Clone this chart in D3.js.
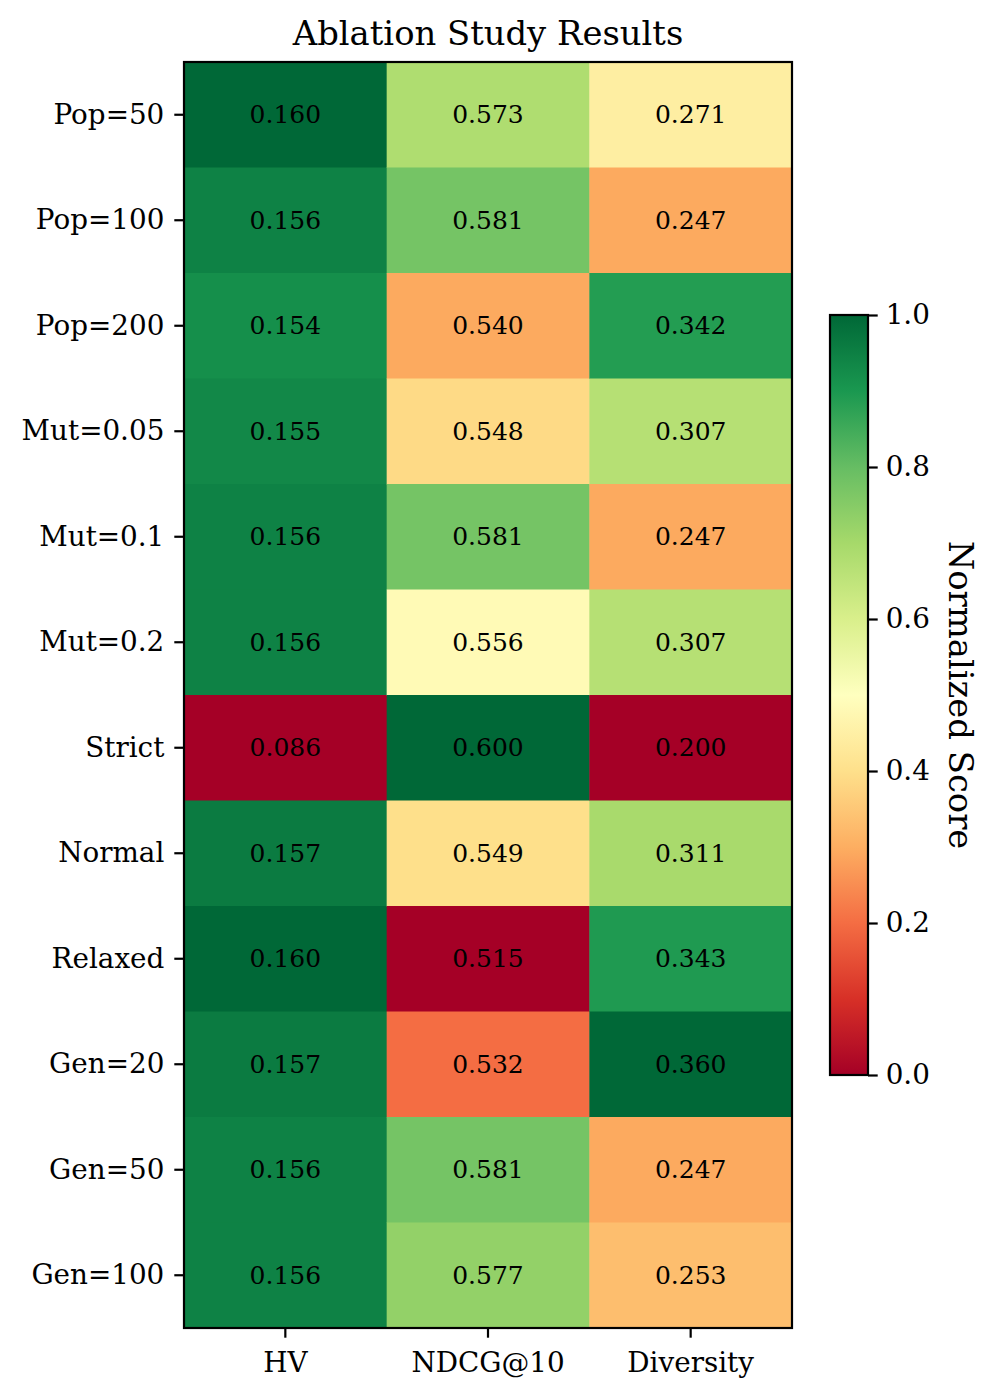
<!DOCTYPE html>
<meta charset="utf-8">
<script src="https://d3js.org/d3.v7.min.js"></script>
<style>
  body { margin: 0; background: #fff; }
  text { font-family: "DejaVu Serif", serif; fill: #000; }
</style>
<div id="chart"></div>
<script>
  // Data
  var configs = ["Pop=50", "Pop=100", "Pop=200", "Mut=0.05", "Mut=0.1", "Mut=0.2",
                 "Strict", "Normal", "Relaxed", "Gen=20", "Gen=50", "Gen=100"];
  var metrics = ["HV", "NDCG@10", "Diversity"];
  var hv        = [0.160, 0.156, 0.154, 0.155, 0.156, 0.156, 0.086, 0.157, 0.160, 0.157, 0.156, 0.156];
  var ndcg      = [0.573, 0.581, 0.540, 0.548, 0.581, 0.556, 0.600, 0.549, 0.515, 0.532, 0.581, 0.577];
  var diversity = [0.271, 0.247, 0.342, 0.307, 0.247, 0.307, 0.200, 0.311, 0.343, 0.360, 0.247, 0.253];
  var cbTicks = [0.0, 0.2, 0.4, 0.6, 0.8, 1.0];

  // matplotlib RdYlGn control colours
  var rdylgn = ["#a50026", "#d73027", "#f46d43", "#fdae61", "#fee08b", "#ffffbf",
                "#d9ef8b", "#a6d96a", "#66bd63", "#1a9850", "#006837"];
  var color = d3.scaleLinear()
    .domain(d3.range(rdylgn.length).map(function (i) { return i / (rdylgn.length - 1); }))
    .range(rdylgn)
    .interpolate(d3.interpolateRgb)
    .clamp(true);

  var columns = [hv, ndcg, diversity];
  var cells = [];
  columns.forEach(function (col, j) {
    var norm = d3.scaleLinear().domain(d3.extent(col)).range([0, 1]);
    col.forEach(function (v, i) {
      cells.push({ row: configs[i], metric: metrics[j], value: v, n: norm(v) });
    });
  });

  var W = 996, H = 1395;
  var plot = { left: 184, right: 792, top: 62, bottom: 1328 };

  var svg = d3.select("#chart").append("svg")
    .attr("width", W)
    .attr("height", H);

  var x = d3.scaleBand().domain(metrics).range([plot.left, plot.right]);
  var y = d3.scaleBand().domain(configs).range([plot.top, plot.bottom]);

  // Cells
  svg.append("g").selectAll("rect")
    .data(cells)
    .enter().append("rect")
    .attr("x", function (d) { return x(d.metric); })
    .attr("y", function (d) { return y(d.row); })
    .attr("width", x.bandwidth() + 0.5)
    .attr("height", y.bandwidth() + 0.5)
    .attr("fill", function (d) { return color(d.n); });

  svg.append("g").selectAll("text")
    .data(cells)
    .enter().append("text")
    .attr("x", function (d) { return x(d.metric) + x.bandwidth() / 2; })
    .attr("y", function (d) { return y(d.row) + y.bandwidth() / 2; })
    .attr("text-anchor", "middle")
    .attr("dominant-baseline", "central")
    .style("font-size", "25px")
    .text(function (d) { return d.value.toFixed(3); });

  // Axes
  var axisL = svg.append("g")
    .attr("transform", "translate(" + plot.left + ",0)")
    .call(d3.axisLeft(y).tickSize(9.7).tickPadding(10));
  var axisB = svg.append("g")
    .attr("transform", "translate(0," + plot.bottom + ")")
    .call(d3.axisBottom(x).tickSize(9.7).tickPadding(8));
  [axisL, axisB].forEach(function (a) {
    a.select(".domain").remove();
    a.selectAll(".tick line").attr("stroke", "#000").attr("stroke-width", 2.2);
    a.selectAll(".tick text").style("font-size", "27.8px").style("font-family", "DejaVu Serif, serif");
  });
  axisB.selectAll(".tick text").attr("dy", "0.93em");

  svg.append("rect")
    .attr("x", plot.left).attr("y", plot.top)
    .attr("width", plot.right - plot.left).attr("height", plot.bottom - plot.top)
    .attr("fill", "none").attr("stroke", "#000").attr("stroke-width", 2.2);

  // Title
  svg.append("text")
    .attr("x", (plot.left + plot.right) / 2)
    .attr("y", 45)
    .attr("text-anchor", "middle")
    .style("font-size", "33.8px")
    .text("Ablation Study Results");

  // Colorbar
  var cb = { left: 830, right: 868, top: 315, bottom: 1075 };
  var grad = svg.append("defs").append("linearGradient")
    .attr("id", "cbgrad")
    .attr("x1", 0).attr("y1", 1).attr("x2", 0).attr("y2", 0);
  grad.selectAll("stop")
    .data(rdylgn)
    .enter().append("stop")
    .attr("offset", function (d, i) { return i / (rdylgn.length - 1); })
    .attr("stop-color", function (d) { return d; });

  svg.append("rect")
    .attr("x", cb.left).attr("y", cb.top)
    .attr("width", cb.right - cb.left).attr("height", cb.bottom - cb.top)
    .attr("fill", "url(#cbgrad)")
    .attr("stroke", "#000").attr("stroke-width", 2.2);

  var cbScale = d3.scaleLinear().domain([0, 1]).range([cb.bottom, cb.top]);
  var cbAxis = svg.append("g")
    .attr("transform", "translate(" + cb.right + ",0)")
    .call(d3.axisRight(cbScale).tickValues(cbTicks).tickFormat(d3.format(".1f")).tickSize(9.7).tickPadding(8));
  cbAxis.select(".domain").remove();
  cbAxis.selectAll(".tick line").attr("stroke", "#000").attr("stroke-width", 2.2);
  cbAxis.selectAll(".tick text").style("font-size", "27.8px").style("font-family", "DejaVu Serif, serif");

  svg.append("text")
    .attr("transform", "translate(949," + ((cb.top + cb.bottom) / 2) + ")rotate(90)")
    .attr("text-anchor", "middle")
    .style("font-size", "33.8px")
    .text("Normalized Score");
</script>
